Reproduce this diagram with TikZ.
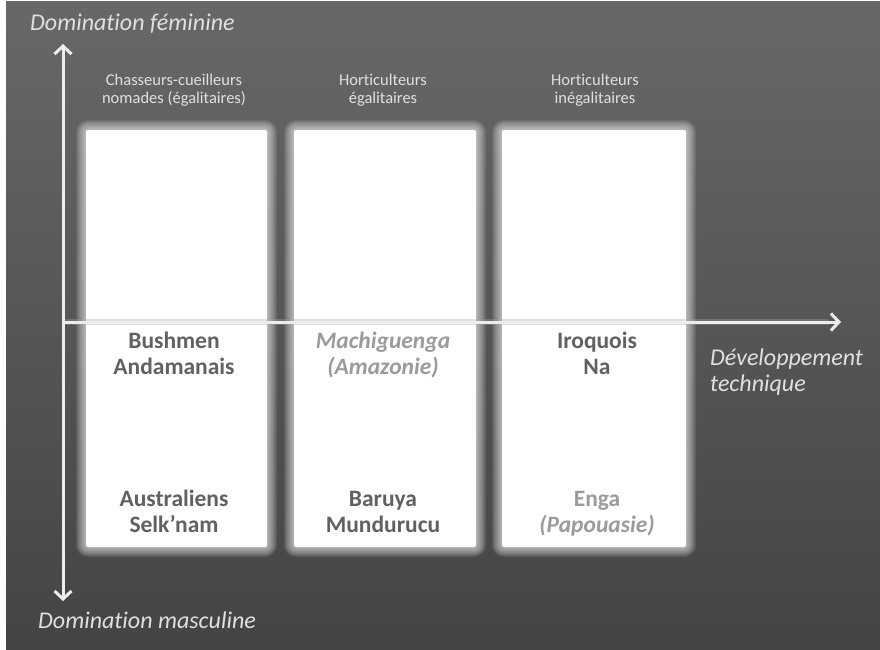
\documentclass[tikz,border=0pt]{standalone}
\usepackage{fontspec}
\setmainfont[Ligatures=CommonOff]{Carlito}
\usetikzlibrary{arrows.meta}
\usetikzlibrary{positioning}

\definecolor{bgtop}{HTML}{686868}
\definecolor{bgbot}{HTML}{444444}
\definecolor{boxdark}{HTML}{616161}
\definecolor{boxlight}{HTML}{9B9B9B}
\definecolor{labelgray}{HTML}{E0E0E0}

\tikzset{
  axis/.style={line width=3pt, color=white!93!black},
  barb/.tip={Straight Barb[length=8pt,width=17pt]},
  axislbl/.style={labelgray, font=\fontsize{24}{26}\selectfont\itshape, inner sep=0pt, anchor=base west},
  typelbl/.style={labelgray, font=\fontsize{16.5}{18}\selectfont, inner sep=0pt, anchor=base},
  socdark/.style={boxdark, font=\fontsize{23.5}{26}\selectfont\bfseries, inner sep=0pt, anchor=base},
  soclight/.style={boxlight, font=\fontsize{23.5}{26}\selectfont\bfseries, inner sep=0pt, anchor=base},
}

\begin{document}
\begin{tikzpicture}[x=1pt, y=-1pt]
 \useasboundingbox (0,0) rectangle (880,649);

 %background
 \fill[white] (0,0) rectangle (880,649);
 \shade[top color=bgtop, bottom color=bgbot] (6,1) rectangle (880,649);

 %boxes, with glow
 \foreach \i/\xl/\xr in {1/86/267, 2/294/476, 3/502/686} {
   \foreach \g in {12,...,1}
     \fill[white, opacity=0.08, rounded corners=\g pt] (\xl+2-\g,132-\g) rectangle (\xr-2+\g,545+\g);
   \fill[white, rounded corners=2pt] (\xl,130) rectangle (\xr,547);
 }

 %axes
 \coordinate (O) at (63,322);
 \coordinate (ytop) at (63,44);
 \coordinate (ybot) at (63,601);
 \coordinate (xend) at (841,322);
 \draw[line width=6pt, black!35, opacity=0.35] (O) -- ([xshift=-12pt]xend);
 \draw[axis, barb-barb] (ybot) -- (ytop);
 \draw[axis, -barb] (O) -- (xend);

 \node[axislbl] (fem)  at (30,30)   {Domination féminine};
 \node[axislbl] (masc) at (38,628)  {Domination masculine};
 \node[axislbl] (dev)  at (710,365) {Développement};
 \node[axislbl] (tech) at (710,391) {technique};

 %types of society
 \node[typelbl] (chass)  at (174,85)  {Chasseurs-cueilleurs};
 \node[typelbl] (nomad)  at (174,103) {nomades (égalitaires)};
 \node[typelbl] (hort1)  at (383,85)  {Horticulteurs};
 \node[typelbl] (egal)   at (383,103) {égalitaires};
 \node[typelbl] (hort2)  at (595,85)  {Horticulteurs};
 \node[typelbl] (inegal) at (595,103) {inégalitaires};

 %upper row
 \node[socdark]  (bush)  at (174,348) {Bushmen};
 \node[socdark]  (andam) at (174,374) {Andamanais};
 \node[soclight] (machi) at (383,348) {\itshape Machiguenga};
 \node[soclight] (amaz)  at (383,374) {\itshape (Amazonie)};
 \node[socdark]  (iroq)  at (597,348) {Iroquois};
 \node[socdark]  (na)    at (597,374) {Na};

 %lower row
 \node[socdark]  (austr) at (174,506) {Australiens};
 \node[socdark]  (selk)  at (174,532) {Selk’nam};
 \node[socdark]  (baru)  at (383,506) {Baruya};
 \node[socdark]  (mundu) at (383,532) {Mundurucu};
 \node[soclight] (enga)  at (597,506) {Enga};
 \node[soclight] (papou) at (597,532) {\itshape (Papouasie)};
\end{tikzpicture}
\end{document}
